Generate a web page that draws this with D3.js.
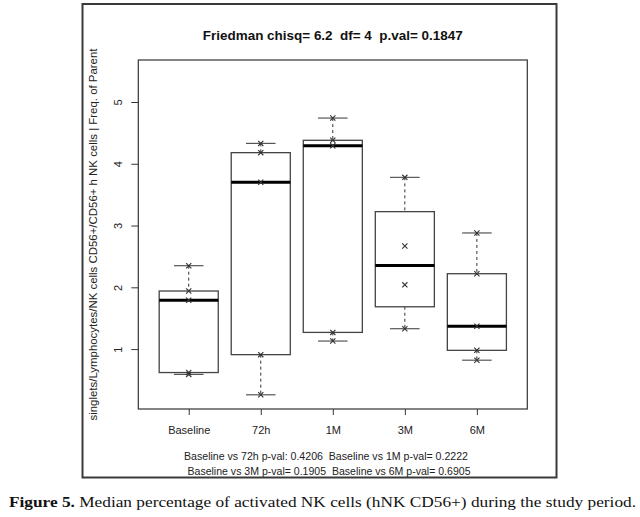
<!DOCTYPE html>
<html>
<head>
<meta charset="utf-8">
<script src="https://cdn.jsdelivr.net/npm/d3@7"></script>
<style>
  html, body { margin: 0; padding: 0; background: #fff; }
  svg { display: block; }
  text { white-space: pre; }
</style>
</head>
<body>
<script>
// ---- data ----
const categories = ["Baseline", "72h", "1M", "3M", "6M"];
const baselineVals = [2.35, 1.94, 1.79, 0.62, 0.59];
const h72Vals = [4.33, 4.18, 3.70, 0.91, 0.26];
const m1Vals = [4.74, 4.38, 4.29, 1.27, 1.13];
const m3Vals = [3.78, 2.67, 2.04, 1.33];
const m6Vals = [2.88, 2.22, 1.37, 0.98, 0.82];
const seriesValues = [baselineVals, h72Vals, m1Vals, m3Vals, m6Vals];
const yTicks = [1, 2, 3, 4, 5];
const titleText = "Friedman chisq= 6.2  df= 4  p.val= 0.1847";
const yLabel = "singlets/Lymphocytes/NK cells CD56+/CD56+ h NK cells | Freq. of Parent";
const subLines = [
  "Baseline vs 72h p-val: 0.4206  Baseline vs 1M p-val= 0.2222",
  "Baseline vs 3M p-val= 0.1905  Baseline vs 6M p-val= 0.6905"
];
const captionBold = "Figure 5.";
const captionRest = " Median percentage of activated NK cells (hNK CD56+) during the study period.";

// R-style fivenum
function fivenum(arr) {
  const x = arr.slice().sort((a, b) => a - b);
  const n = x.length;
  const n4 = Math.floor((n + 3) / 2) / 2;
  const d = [1, n4, (n + 1) / 2, n + 1 - n4, n];
  return d.map(di => 0.5 * (x[Math.floor(di) - 1] + x[Math.ceil(di) - 1]));
}

const W = 640, H = 517;
const svg = d3.select("body").append("svg").attr("width", W).attr("height", H);
svg.append("rect").attr("width", W).attr("height", H).attr("fill", "#fff");

const plot = { left: 138.3, right: 527.3, top: 60, bottom: 409 };
const x = d3.scaleLinear().domain([0.3, 5.7]).range([plot.left, plot.right]);
const y = d3.scaleLinear().domain([0.03, 5.68]).range([plot.bottom, plot.top]);
const font = "'Liberation Sans', Arial, sans-serif";

// outer frame
svg.append("rect").attr("x", 82.5).attr("y", 4).attr("width", 474).attr("height", 473.5)
  .attr("fill", "none").attr("stroke", "#3a3a3a").attr("stroke-width", 2);

// plot box
svg.append("rect").attr("x", plot.left).attr("y", plot.top)
  .attr("width", plot.right - plot.left).attr("height", plot.bottom - plot.top)
  .attr("fill", "none").attr("stroke", "#333").attr("stroke-width", 1.2);

// y axis
const yAxis = d3.axisLeft(y).tickValues(yTicks).tickSize(7).tickFormat(d3.format("d"));
const gy = svg.append("g").attr("transform", `translate(${plot.left},0)`).call(yAxis);
gy.select(".domain").attr("stroke", "#333").attr("d", `M-7,${y(1)}H0V${y(5)}H-7`).attr("stroke", "none");
gy.selectAll(".tick line").attr("stroke", "#333");
gy.selectAll(".tick text").attr("font-family", font).attr("font-size", 11).attr("fill", "#222")
  .attr("x", 0).attr("dy", 0)
  .attr("text-anchor", "middle")
  .attr("transform", "translate(-16,0) rotate(-90)");

// x axis
const xAxis = d3.axisBottom(x).tickValues([1, 2, 3, 4, 5]).tickSize(6)
  .tickFormat((d) => categories[d - 1]);
const gx = svg.append("g").attr("transform", `translate(0,${plot.bottom})`).call(xAxis);
gx.select(".domain").attr("stroke", "none");
gx.selectAll(".tick line").attr("stroke", "#333");
gx.selectAll(".tick text").attr("font-family", font).attr("font-size", 11).attr("fill", "#222")
  .attr("y", 17).attr("dy", "0.71em");

// boxes
const boxW = 0.82;
seriesValues.forEach((vals, i) => {
  const c = i + 1;
  const f = fivenum(vals);
  const g = svg.append("g");
  const xl = x(c - boxW / 2), xr = x(c + boxW / 2), xc = x(c);
  const sl = x(c - boxW / 4), sr = x(c + boxW / 4);
  // whiskers
  g.append("line").attr("x1", xc).attr("x2", xc).attr("y1", y(f[4])).attr("y2", y(f[3]))
    .attr("stroke", "#333").attr("stroke-dasharray", "3,3");
  g.append("line").attr("x1", xc).attr("x2", xc).attr("y1", y(f[1])).attr("y2", y(f[0]))
    .attr("stroke", "#333").attr("stroke-dasharray", "3,3");
  // staples
  [f[0], f[4]].forEach(v => {
    g.append("line").attr("x1", sl).attr("x2", sr).attr("y1", y(v)).attr("y2", y(v))
      .attr("stroke", "#555").attr("stroke-width", 1.2);
  });
  // box
  g.append("rect").attr("x", xl).attr("y", y(f[3])).attr("width", xr - xl)
    .attr("height", y(f[1]) - y(f[3])).attr("fill", "#fff")
    .attr("stroke", "#444").attr("stroke-width", 1.3);
  // median
  g.append("line").attr("x1", xl).attr("x2", xr).attr("y1", y(f[2])).attr("y2", y(f[2]))
    .attr("stroke", "#000").attr("stroke-width", 3);
  // points
  vals.forEach(v => {
    const py = y(v), s = 2.6;
    g.append("path").attr("d", `M${xc - s},${py - s}L${xc + s},${py + s}M${xc - s},${py + s}L${xc + s},${py - s}`)
      .attr("stroke", "#333").attr("stroke-width", 1.1).attr("fill", "none");
  });
});

// title
svg.append("text").attr("x", (plot.left + plot.right) / 2).attr("y", 40)
  .attr("text-anchor", "middle").attr("font-family", font).attr("font-weight", "bold")
  .attr("font-size", 13).attr("fill", "#111").text(titleText)
  .attr("textLength", 260).attr("lengthAdjust", "spacingAndGlyphs");

// y label
svg.append("text").attr("transform", `translate(97,${(plot.top + plot.bottom) / 2}) rotate(-90)`)
  .attr("text-anchor", "middle").attr("font-family", font).attr("font-size", 11)
  .attr("fill", "#222").text(yLabel)
  .attr("textLength", 372).attr("lengthAdjust", "spacingAndGlyphs");

// sub lines
svg.append("text").attr("x", 326).attr("y", 460).attr("text-anchor", "middle")
  .attr("font-family", font).attr("font-size", 11).attr("fill", "#222").text(subLines[0])
  .attr("textLength", 284).attr("lengthAdjust", "spacingAndGlyphs");
svg.append("text").attr("x", 329).attr("y", 475).attr("text-anchor", "middle")
  .attr("font-family", font).attr("font-size", 11).attr("fill", "#222").text(subLines[1])
  .attr("textLength", 283).attr("lengthAdjust", "spacingAndGlyphs");

// caption
const cap = svg.append("text").attr("x", 9).attr("y", 507)
  .attr("font-family", "'Liberation Serif', 'DejaVu Serif', serif").attr("font-size", 14.5).attr("fill", "#111")
  .attr("textLength", 627).attr("lengthAdjust", "spacingAndGlyphs");
cap.append("tspan").attr("font-weight", "bold").text(captionBold);
cap.append("tspan").text(captionRest);
</script>
</body>
</html>
